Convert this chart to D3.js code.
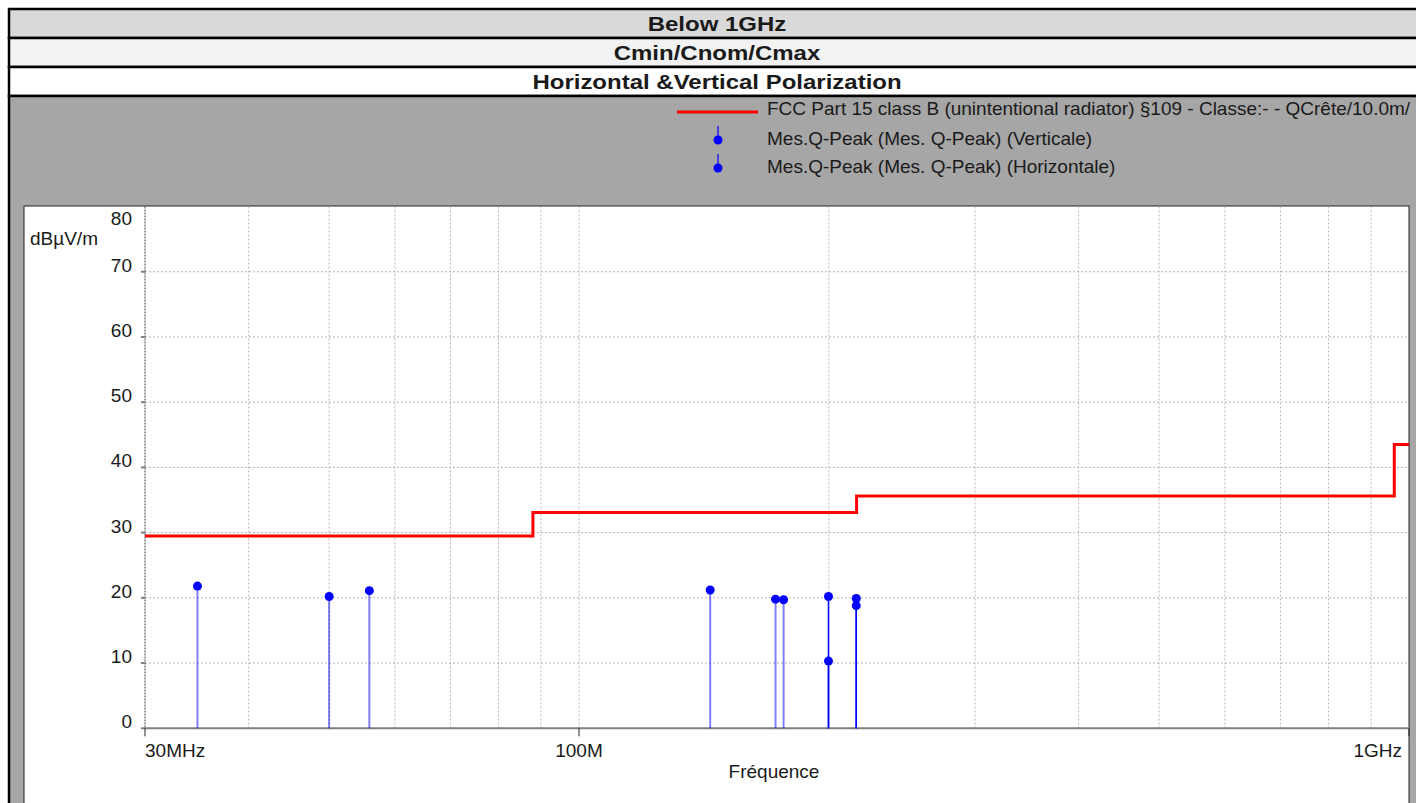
<!DOCTYPE html>
<html>
<head>
<meta charset="utf-8">
<script src="https://cdn.jsdelivr.net/npm/d3@7"></script>
<style>
  body { margin: 0; background: #fff; }
  text { font-family: "Liberation Sans", Arial, sans-serif; fill: #1a1a1a; }
</style>
</head>
<body>
<div id="chart"></div>
<script>
// header titles
const titles = ["Below 1GHz", "Cmin/Cnom/Cmax", "Horizontal &Vertical Polarization"];
const titleFills = ["#d9d9d9", "#f2f2f2", "#ffffff"];

// legend
const legendLabels = [
  "FCC Part 15 class B (unintentional radiator) §109 - Classe:- - QCrête/10.0m/",
  "Mes.Q-Peak (Mes. Q-Peak) (Verticale)",
  "Mes.Q-Peak (Mes. Q-Peak) (Horizontale)"
];

// limit line (MHz, dBµV/m), step after
const limitFreq = [30, 88, 216, 960, 1000];
const limitLevel = [29.5, 33.1, 35.6, 43.5, 43.5];

// quasi-peak measurements
const vertFreq = [34.7, 50.0, 55.9, 143.9, 172.5, 176.4];
const vertLevel = [21.8, 20.2, 21.1, 21.2, 19.8, 19.7];
const horizFreq = [199.8, 199.8, 215.8, 215.8];
const horizLevel = [20.2, 10.3, 19.9, 18.8];

// axes
const yTicks = [0, 10, 20, 30, 40, 50, 60, 70, 80];
const xTicks = [30, 100, 1000];
const xTickLabels = ["30MHz", "100M", "1GHz"];
const xGrid = [40, 50, 60, 70, 80, 90, 100, 200, 300, 400, 500, 600, 700, 800, 900];

const W = 1416, H = 803;
const FS = 19;
const svg = d3.select("#chart").append("svg")
  .attr("width", W).attr("height", H);

// header rows
const rowTop = [9, 38, 67], rowH = 29;
titles.forEach((t, i) => {
  svg.append("rect")
    .attr("x", 9).attr("y", rowTop[i])
    .attr("width", W + 10).attr("height", rowH)
    .attr("fill", titleFills[i])
    .attr("stroke", "#000").attr("stroke-width", 2.5);
  // header text in the original is stretched horizontally
  svg.append("text")
    .attr("transform", `translate(717,${rowTop[i] + 22}) scale(1.2,1)`)
    .attr("text-anchor", "middle")
    .attr("font-size", 20).attr("font-weight", "bold")
    .text(t);
});

// gray area + white panel
svg.append("rect")
  .attr("x", 9).attr("y", 96).attr("width", W).attr("height", H)
  .attr("fill", "#a6a6a6").attr("stroke", "#000").attr("stroke-width", 2.5);
svg.append("rect")
  .attr("x", 24).attr("y", 206).attr("width", 1385).attr("height", H)
  .attr("fill", "#fff").attr("stroke", "#222").attr("stroke-width", 1);

// legend
svg.append("line")
  .attr("x1", 677).attr("x2", 758).attr("y1", 112).attr("y2", 112)
  .attr("stroke", "#ff0000").attr("stroke-width", 3);
[140, 168].forEach(cy => {
  svg.append("line")
    .attr("x1", 718).attr("x2", 718).attr("y1", cy - 14).attr("y2", cy)
    .attr("stroke", "#0000ff").attr("stroke-width", 1.2);
  svg.append("circle").attr("cx", 718).attr("cy", cy).attr("r", 4.5).attr("fill", "#0000ff");
});
[115, 144.5, 172.5].forEach((by, i) => {
  svg.append("text")
    .attr("x", 767).attr("y", by)
    .attr("font-size", FS)
    .text(legendLabels[i]);
});

// scales
const x = d3.scaleLog().domain([30, 1000]).range([145, 1409]);
const y = d3.scaleLinear().domain([0, 80]).range([728.3, 206.5]);

const plot = svg.append("g");

// grid
plot.selectAll(".hgrid")
  .data(yTicks.filter(d => d > 0 && d < 80))
  .join("line")
  .attr("x1", x(30)).attr("x2", x(1000))
  .attr("y1", d => y(d)).attr("y2", d => y(d))
  .attr("stroke", "#b4b4b4").attr("stroke-width", 1)
  .attr("stroke-dasharray", "2,2");
plot.selectAll(".vgrid")
  .data(xGrid)
  .join("line")
  .attr("x1", d => x(d)).attr("x2", d => x(d))
  .attr("y1", y(80)).attr("y2", y(0))
  .attr("stroke", "#b4b4b4").attr("stroke-width", 1)
  .attr("stroke-dasharray", "2,2");

// y axis (dotted line + small ticks)
plot.append("line")
  .attr("x1", x(30)).attr("x2", x(30)).attr("y1", y(80)).attr("y2", y(0))
  .attr("stroke", "#444").attr("stroke-width", 1).attr("stroke-dasharray", "2,1");
plot.selectAll(".ytick")
  .data(yTicks.filter(d => d < 80))
  .join("line")
  .attr("x1", x(30) - 4).attr("x2", x(30))
  .attr("y1", d => y(d)).attr("y2", d => y(d))
  .attr("stroke", "#808080").attr("stroke-width", 2);
plot.selectAll(".ylab")
  .data(yTicks)
  .join("text")
  .attr("x", 132)
  .attr("y", d => Math.max(y(d), y(80) + 18.5))
  .attr("text-anchor", "end")
  .attr("font-size", FS)
  .text(d => d);
svg.append("text")
  .attr("x", 30).attr("y", 245)
  .attr("font-size", FS)
  .text("dBµV/m");

// x axis
plot.append("line")
  .attr("x1", x(30)).attr("x2", x(1000)).attr("y1", y(0)).attr("y2", y(0))
  .attr("stroke", "#808080").attr("stroke-width", 2);
plot.selectAll(".xtick")
  .data(xTicks)
  .join("line")
  .attr("x1", d => x(d)).attr("x2", d => x(d))
  .attr("y1", y(0)).attr("y2", y(0) + 8)
  .attr("stroke", "#222").attr("stroke-width", 1);
const anchors = ["start", "middle", "end"];
plot.selectAll(".xlab")
  .data(xTicks)
  .join("text")
  .attr("x", (d, i) => x(d) + (i === 2 ? -7 : 0))
  .attr("y", 757)
  .attr("text-anchor", (d, i) => anchors[i])
  .attr("font-size", FS)
  .text((d, i) => xTickLabels[i]);
svg.append("text")
  .attr("x", 774).attr("y", 778)
  .attr("text-anchor", "middle")
  .attr("font-size", FS)
  .text("Fréquence");

// limit line
const limitData = limitFreq.map((f, i) => [f, limitLevel[i]]);
plot.append("path")
  .datum(limitData)
  .attr("fill", "none")
  .attr("stroke", "#ff0000").attr("stroke-width", 3)
  .attr("d", d3.line().x(d => x(d[0])).y(d => y(d[1])).curve(d3.curveStepAfter));

// stems + points
function stems(freq, level, color, width, opacity) {
  const data = freq.map((f, i) => ({ f, v: level[i] }));
  plot.append("g").selectAll("line")
    .data(data)
    .join("line")
    .attr("x1", d => x(d.f)).attr("x2", d => x(d.f))
    .attr("y1", y(0)).attr("y2", d => y(d.v))
    .attr("stroke", color).attr("stroke-width", width)
    .attr("stroke-opacity", opacity);
  plot.append("g").selectAll("circle")
    .data(data)
    .join("circle")
    .attr("cx", d => x(d.f)).attr("cy", d => y(d.v))
    .attr("r", 4.5)
    .attr("fill", "#0000ff");
}
stems(vertFreq, vertLevel, "#0000ff", 2, 0.5);
stems(horizFreq, horizLevel, "#0000ff", 1.5, 1);
</script>
</body>
</html>
